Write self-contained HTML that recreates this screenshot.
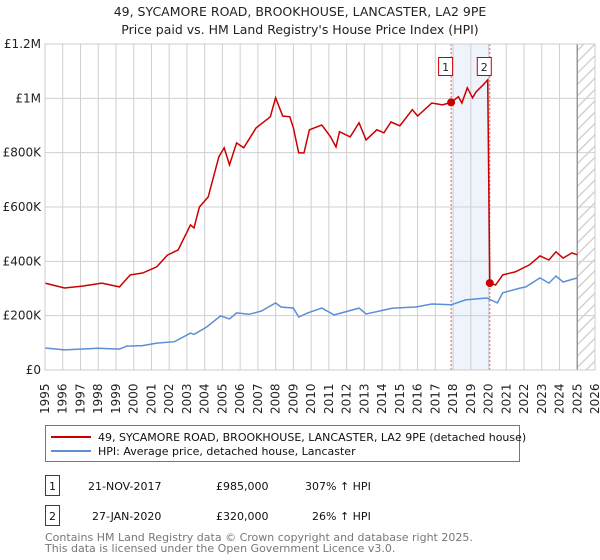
<!DOCTYPE html>
<html><head><meta charset="utf-8"><style>
body{margin:0;background:#fff;font-family:"DejaVu Sans","Liberation Sans",sans-serif;}
svg{display:block}
</style></head><body>
<svg id="chart" width="600" height="560" font-family="DejaVu Sans, Liberation Sans, sans-serif">
<defs>
<pattern id="hatch" width="8" height="8" patternUnits="userSpaceOnUse" patternTransform="rotate(45)">
<line x1="4" y1="0" x2="4" y2="8" stroke="#c8c8c8" stroke-width="1.2"/>
</pattern>
</defs>
<text x="300" y="16" text-anchor="middle" font-size="12.5" fill="#222">49, SYCAMORE ROAD, BROOKHOUSE, LANCASTER, LA2 9PE</text>
<text x="300" y="34" text-anchor="middle" font-size="12.5" fill="#222">Price paid vs. HM Land Registry's House Price Index (HPI)</text>
<g id="plot"></g>
<g>
<rect x="45.5" y="425.5" width="474" height="36" fill="#fff" stroke="#777"/>
<line x1="51" y1="437" x2="91" y2="437" stroke="#cc0000" stroke-width="2"/>
<text x="98" y="441" font-size="11" fill="#111">49, SYCAMORE ROAD, BROOKHOUSE, LANCASTER, LA2 9PE (detached house)</text>
<line x1="51" y1="451" x2="91" y2="451" stroke="#5b8fd6" stroke-width="2"/>
<text x="98" y="455" font-size="11" fill="#111">HPI: Average price, detached house, Lancaster</text>
</g>
<g font-size="11" fill="#111">
<rect x="45.5" y="475.5" width="14" height="20" fill="#fff" stroke="#cc0000"/>
<text x="52.5" y="490" text-anchor="middle">1</text>
<text x="88" y="490">21-NOV-2017</text><text x="216" y="490">£985,000</text><text x="305" y="490">307% ↑ HPI</text>
<rect x="45.5" y="505.5" width="14" height="20" fill="#fff" stroke="#cc0000"/>
<text x="52.5" y="520" text-anchor="middle">2</text>
<text x="92" y="520">27-JAN-2020</text><text x="216" y="520">£320,000</text><text x="312" y="520">26% ↑ HPI</text>
</g>
<text x="45" y="541" font-size="11" fill="#777">Contains HM Land Registry data © Crown copyright and database right 2025.</text>
<text x="45" y="552" font-size="11" fill="#777">This data is licensed under the Open Government Licence v3.0.</text>
</svg>
<script>
const yearTicks=[1995,1996,1997,1998,1999,2000,2001,2002,2003,2004,2005,2006,2007,2008,2009,2010,2011,2012,2013,2014,2015,2016,2017,2018,2019,2020,2021,2022,2023,2024,2025,2026];
const valueTicks=[0,200000,400000,600000,800000,1000000,1200000];
const valueTickLabels=["£0","£200K","£400K","£600K","£800K","£1M","£1.2M"];
const propertyDates=[1995,1996.1,1997.1,1998.2,1999.2,1999.8,2000.5,2001.3,2001.9,2002.5,2003.2,2003.4,2003.7,2004.2,2004.8,2005.1,2005.4,2005.8,2006.2,2006.9,2007.7,2008.0,2008.4,2008.8,2009.0,2009.3,2009.6,2009.9,2010.6,2011.1,2011.4,2011.6,2012.2,2012.7,2013.1,2013.7,2014.1,2014.5,2015.0,2015.7,2016.0,2016.8,2017.4,2017.89,2018.3,2018.5,2018.8,2019.1,2019.3,2019.7,2019.95,2020.07,2020.4,2020.8,2021.5,2022.3,2022.9,2023.4,2023.8,2024.2,2024.7,2025.0];
const propertyValues=[320000,302000,309000,320000,306000,350000,357000,380000,423000,442000,534000,523000,600000,637000,785000,818000,755000,836000,818000,891000,932000,1002000,935000,932000,891000,799000,799000,884000,902000,858000,821000,877000,858000,910000,847000,884000,873000,913000,899000,958000,935000,983000,976000,985000,1006000,983000,1039000,1002000,1024000,1050000,1068000,320000,313000,350000,361000,387000,420000,405000,435000,412000,431000,424000];
const hpiDates=[1995,1996.1,1998,1999.2,1999.6,2000.5,2001.3,2002.3,2003.2,2003.4,2004.1,2004.9,2005.4,2005.8,2006.5,2007.2,2008.0,2008.3,2009.0,2009.3,2009.8,2010.6,2011.3,2012.7,2013.1,2014.6,2015.9,2016.8,2017.9,2018.7,2019.9,2020.5,2020.8,2021.8,2022.1,2022.9,2023.4,2023.8,2024.2,2025.0];
const hpiValues=[81000,74000,80000,77000,88000,90000,99000,104000,136000,131000,158000,199000,188000,210000,205000,217000,247000,232000,228000,195000,210000,228000,203000,228000,206000,228000,232000,243000,240000,258000,265000,247000,284000,302000,306000,339000,320000,346000,324000,339000];
const saleDates=[2017.89,2020.07];
const saleValues=[985000,320000];
const saleLabels=["1","2"];

const L=45,R=595,T=44,B=370;
const xS=y=>L+(y-1995)/(2026-1995)*(R-L);
const yS=v=>B-v/1200000*(B-T);
const NS="http://www.w3.org/2000/svg";
const g=document.getElementById('plot');
function mk(t,a,p){const e=document.createElementNS(NS,t);for(const k in a)e.setAttribute(k,a[k]);(p||g).appendChild(e);return e;}
let band=mk('rect',{x:xS(saleDates[0]),y:T,width:xS(saleDates[1])-xS(saleDates[0]),height:B-T,fill:'#eef3fc'});


let hat=mk('rect',{x:xS(2025.0),y:T,width:R-xS(2025.0),height:B-T,fill:'url(#hatch)'});


yearTicks.forEach(y=>{
  const x=xS(y);
  let l=mk('line',{x1:x,y1:T,x2:x,y2:B,stroke:'#d0d0d0','stroke-width':1});
  
  
  let t=mk('text',{x:0,y:0,transform:`translate(${x+4},${B+44}) rotate(-90)`,'font-size':12,fill:'#222'});
  t.textContent=y;
  
  
});
valueTicks.forEach((v,i)=>{
  const y=yS(v);
  let l=mk('line',{x1:L,y1:y,x2:R,y2:y,stroke:'#d0d0d0','stroke-width':1});
  
  
  let t=mk('text',{x:L-4,y:y+4,'text-anchor':'end','font-size':12,fill:'#222'});
  t.textContent=valueTickLabels[i];
  
  
});
let nowl=mk('line',{x1:xS(2025.0),y1:T,x2:xS(2025.0),y2:B,stroke:'#999','stroke-width':1.5});


saleDates.forEach((d,i)=>{
  let l=mk('line',{x1:xS(d),y1:T,x2:xS(d),y2:B,stroke:'#e06060','stroke-width':1,'stroke-dasharray':'2,2'});
  
  
});
function path(ds,vs){return ds.map((d,i)=>(i?'L':'M')+xS(d).toFixed(1)+','+yS(vs[i]).toFixed(1)).join('');}
let hp=mk('path',{d:path(hpiDates,hpiValues),fill:'none',stroke:'#5b8fd6','stroke-width':1.5});


let pp=mk('path',{d:path(propertyDates,propertyValues),fill:'none',stroke:'#cc0000','stroke-width':1.5});


saleDates.forEach((d,i)=>{
  let c=mk('circle',{cx:xS(d),cy:yS(saleValues[i]),r:4,fill:'#cc0000'});
  
  
  let r=mk('rect',{x:xS(d)-12.5,y:57.5,width:14,height:18,fill:'#fff',stroke:'#cc0000'});
  
  
  let t=mk('text',{x:xS(d)-5.5,y:71,'text-anchor':'middle','font-size':11,fill:'#222'});
  t.textContent=saleLabels[i];
  
  
});
mk('rect',{x:L,y:T,width:R-L,height:B-T,fill:'none',stroke:'#ccc'});
</script>
</body></html>
